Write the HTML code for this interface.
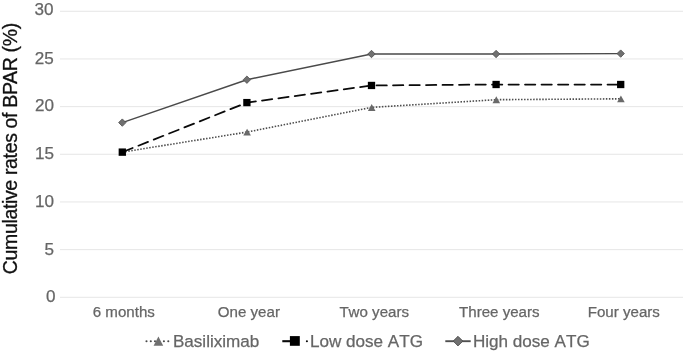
<!DOCTYPE html>
<html><head><meta charset="utf-8"><title>chart</title><style>html,body{margin:0;padding:0;background:#fff}svg{will-change:transform}</style></head><body>
<svg width="685" height="353" viewBox="0 0 685 353" style="display:block;font-family:'Liberation Sans',sans-serif">
<rect width="685" height="353" fill="#fff"/>
<line x1="60" x2="683" y1="297.30" y2="297.30" stroke="#e1e1e1" stroke-width="0.85"/>
<text x="55.4" y="302.0" font-size="17.1" fill="#666" stroke="#666" stroke-width="0.25" text-anchor="end">0</text>
<line x1="60" x2="683" y1="249.63" y2="249.63" stroke="#e1e1e1" stroke-width="0.85"/>
<text x="54.1" y="255.2" font-size="17.1" fill="#666" stroke="#666" stroke-width="0.25" text-anchor="end">5</text>
<line x1="60" x2="683" y1="201.96" y2="201.96" stroke="#e1e1e1" stroke-width="0.85"/>
<text x="53.9" y="206.6" font-size="17.1" fill="#666" stroke="#666" stroke-width="0.25" text-anchor="end">10</text>
<line x1="60" x2="683" y1="154.29" y2="154.29" stroke="#e1e1e1" stroke-width="0.85"/>
<text x="53.9" y="158.6" font-size="17.1" fill="#666" stroke="#666" stroke-width="0.25" text-anchor="end">15</text>
<line x1="60" x2="683" y1="106.62" y2="106.62" stroke="#e1e1e1" stroke-width="0.85"/>
<text x="53.9" y="110.6" font-size="17.1" fill="#666" stroke="#666" stroke-width="0.25" text-anchor="end">20</text>
<line x1="60" x2="683" y1="58.95" y2="58.95" stroke="#e1e1e1" stroke-width="0.85"/>
<text x="53.8" y="63.9" font-size="17.1" fill="#666" stroke="#666" stroke-width="0.25" text-anchor="end">25</text>
<line x1="60" x2="683" y1="11.28" y2="11.28" stroke="#e1e1e1" stroke-width="0.85"/>
<text x="53.6" y="15.3" font-size="17.1" fill="#666" stroke="#666" stroke-width="0.25" text-anchor="end">30</text>
<text transform="translate(17.2,148.5) rotate(-90)" font-size="19.5" fill="#111" stroke="#111" stroke-width="0.3" text-anchor="middle" textLength="251.5" lengthAdjust="spacing">Cumulative rates of BPAR (%)</text>
<text x="123.8" y="316.8" font-size="15.1" fill="#666" stroke="#666" stroke-width="0.25" text-anchor="middle" style="font-kerning:none">6 months</text>
<text x="248.9" y="316.8" font-size="15.1" fill="#666" stroke="#666" stroke-width="0.25" text-anchor="middle" style="font-kerning:none">One year</text>
<text x="374.2" y="316.8" font-size="15.1" fill="#666" stroke="#666" stroke-width="0.25" text-anchor="middle" style="font-kerning:none">Two years</text>
<text x="499.3" y="316.8" font-size="15.1" fill="#666" stroke="#666" stroke-width="0.25" text-anchor="middle" style="font-kerning:none">Three years</text>
<text x="623.8" y="316.8" font-size="15.1" fill="#666" stroke="#666" stroke-width="0.25" text-anchor="middle" style="font-kerning:none">Four years</text>
<polyline points="122.3,152.1 246.9,132.1 371.5,107.4 496.1,99.7 620.7,98.8" fill="none" stroke="#4d4d4d" stroke-width="1.6" stroke-dasharray="1.5 1.53"/>
<polyline points="122.3,152.1 246.9,102.6 371.5,85.5 496.1,84.5 620.7,84.5" fill="none" stroke="#0a0a0a" stroke-width="1.75" stroke-linecap="round" stroke-dasharray="10.3 6.2" stroke-dashoffset="-0.85"/>
<polyline points="122.3,122.6 246.9,79.7 371.5,54.0 496.1,54.0 620.7,53.6" fill="none" stroke="#4a4a4a" stroke-width="1.45" stroke-linejoin="round"/>
<polygon points="122.5,148.7 126.3,155.6 118.7,155.6" fill="#6a6a6a"/>
<polygon points="247.1,128.7 250.9,135.6 243.3,135.6" fill="#6a6a6a"/>
<polygon points="371.7,104.0 375.5,110.9 367.9,110.9" fill="#6a6a6a"/>
<polygon points="496.3,96.3 500.1,103.2 492.5,103.2" fill="#6a6a6a"/>
<polygon points="620.9,95.4 624.7,102.3 617.1,102.3" fill="#6a6a6a"/>
<rect x="118.65" y="148.45" width="7.3" height="7.3" fill="#000"/>
<rect x="243.25" y="98.94" width="7.3" height="7.3" fill="#000"/>
<rect x="367.85" y="81.81" width="7.3" height="7.3" fill="#000"/>
<rect x="492.45" y="80.85" width="7.3" height="7.3" fill="#000"/>
<rect x="617.05" y="80.85" width="7.3" height="7.3" fill="#000"/>
<polygon points="122.3,118.9 126.0,122.6 122.3,126.3 118.6,122.6" fill="#707070" stroke="#4c4c4c" stroke-width="0.8"/>
<polygon points="246.9,76.0 250.6,79.7 246.9,83.4 243.2,79.7" fill="#707070" stroke="#4c4c4c" stroke-width="0.8"/>
<polygon points="371.5,50.3 375.2,54.0 371.5,57.7 367.8,54.0" fill="#707070" stroke="#4c4c4c" stroke-width="0.8"/>
<polygon points="496.1,50.3 499.8,54.0 496.1,57.7 492.4,54.0" fill="#707070" stroke="#4c4c4c" stroke-width="0.8"/>
<polygon points="620.7,49.9 624.4,53.6 620.7,57.3 617.0,53.6" fill="#707070" stroke="#4c4c4c" stroke-width="0.8"/>
<circle cx="146.5" cy="341.2" r="1.05" fill="#4a4a4a"/>
<circle cx="150.8" cy="341.2" r="1.05" fill="#4a4a4a"/>
<circle cx="155" cy="341.2" r="1.05" fill="#4a4a4a"/>
<circle cx="163.9" cy="341.2" r="1.05" fill="#4a4a4a"/>
<circle cx="168.3" cy="341.2" r="1.05" fill="#4a4a4a"/>
<polygon points="158.4,336.4 163.2,345.7 153.6,345.7" fill="#707070"/>
<text x="172.9" y="346.6" font-size="17.1" fill="#666" stroke="#666" stroke-width="0.25" style="font-kerning:none">Basiliximab</text>
<line x1="282.3" x2="291" y1="341.2" y2="341.2" stroke="#0a0a0a" stroke-width="2.1"/>
<rect x="289.9" y="336.1" width="9.9" height="9.7" fill="#000"/>
<circle cx="306.9" cy="341.2" r="1.05" fill="#0a0a0a"/>
<text x="309.9" y="346.6" font-size="17.1" fill="#666" stroke="#666" stroke-width="0.25" style="font-kerning:none">Low dose ATG</text>
<line x1="445.3" x2="470.7" y1="341.2" y2="341.2" stroke="#505050" stroke-width="1.9"/>
<polygon points="458,336.3 462.8,341.1 458,345.9 453.2,341.1" fill="#707070" stroke="#4c4c4c" stroke-width="0.9"/>
<text x="472.9" y="346.6" font-size="17.1" fill="#666" stroke="#666" stroke-width="0.25" style="font-kerning:none">High dose ATG</text>
</svg>
</body></html>
